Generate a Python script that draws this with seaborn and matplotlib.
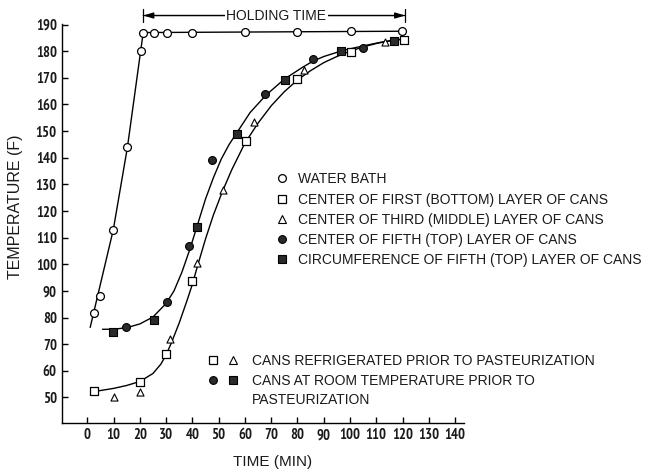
import matplotlib
matplotlib.use('Agg')
import matplotlib.pyplot as plt
from matplotlib import font_manager
from matplotlib.font_manager import FontProperties
from matplotlib.lines import Line2D
from matplotlib.legend_handler import HandlerTuple
import seaborn as sns

# values: time (min), temperature (F)
water_t = [2.6, 5.0, 9.9, 15.3, 20.3, 21.3, 25.5, 30.2, 40.0, 60.2, 80.0, 100.2, 119.7]
water_T = [81.8, 88.0, 113.0, 144.1, 180.0, 187.0, 187.0, 187.0, 187.0, 187.2, 187.3, 187.4, 187.5]
water_line_t = [1.1, 9.9, 15.3, 20.3, 21.3, 119.7]
water_line_T = [76.3, 113.0, 144.1, 180.0, 187.0, 187.5]

# center of first (bottom) layer - open squares
bottom_t = [2.7, 19.9, 30.0, 39.9, 60.5, 79.8, 100.5, 120.5]
bottom_T = [52.3, 55.8, 66.5, 93.6, 146.1, 169.4, 179.8, 184.1]
# center of third (middle) layer - open triangles
middle_t = [10.1, 19.9, 31.6, 41.7, 51.5, 63.3, 82.4, 113.3]
middle_T = [50.3, 52.1, 72.1, 100.3, 128.0, 153.4, 173.0, 183.4]
# center of fifth (top) layer - filled circles
top_t = [14.8, 30.2, 38.7, 47.4, 67.7, 86.0, 105.0]
top_T = [76.4, 85.9, 107.0, 139.0, 164.0, 177.1, 181.3]
# circumference of fifth (top) layer - filled squares
circ_t = [9.7, 25.5, 41.7, 56.9, 75.1, 96.5, 116.7]
circ_T = [74.6, 79.0, 114.0, 149.0, 169.2, 180.0, 184.0]

# hand drawn curves
cold_curve_t = [2.3, 5, 10, 15, 20, 25, 28, 30, 32, 35, 38, 40, 42, 45, 48, 51.5, 55, 60,
                65, 70, 75, 80, 85, 90, 95, 100, 105, 110, 115, 120.5]
cold_curve_T = [52.2, 52.6, 53.4, 54.5, 56.0, 59.0, 62.5, 66.0, 70.5, 78.0, 86.5, 92.5, 99.5,
                109.5, 118.5, 127.5, 135.5, 145.5, 153.0, 159.5, 164.8, 169.2, 172.7, 175.7,
                178.0, 180.0, 181.6, 182.9, 183.9, 184.6]
warm_curve_t = [5.8, 10, 15, 20, 25, 30, 33, 36, 39, 42, 45, 48, 51, 54, 57, 62, 68, 75,
                82, 86, 90, 97, 105, 112, 120.5]
warm_curve_T = [75.6, 75.6, 76.2, 77.6, 80.2, 85.3, 90.0, 97.0, 105.5, 115.0, 124.5, 132.5,
                139.5, 145.0, 149.5, 157.0, 163.5, 169.5, 174.0, 176.3, 178.0, 180.2, 182.0,
                183.4, 184.6]

hold_start = 21.3
hold_end = 121.0
hold_level = 193.4
hold_label_t = 72.0

x_ticks = list(range(0, 141, 10))
y_ticks = list(range(50, 191, 10))

legend_labels = ['WATER BATH',
                 'CENTER OF FIRST (BOTTOM) LAYER OF CANS',
                 'CENTER OF THIRD (MIDDLE) LAYER OF CANS',
                 'CENTER OF FIFTH (TOP) LAYER OF CANS',
                 'CIRCUMFERENCE OF FIFTH (TOP) LAYER OF CANS']
group_labels = ['CANS REFRIGERATED PRIOR TO PASTEURIZATION',
                'CANS AT ROOM TEMPERATURE PRIOR TO',
                'PASTEURIZATION']


# tick numbers in the scan are a narrow bold face; pick whatever narrow font exists
def narrow_font(size):
    cands = []
    for f in font_manager.fontManager.ttflist:
        name = f.name + ' ' + str(f.stretch)
        if 'Narrow' in name or 'ondensed' in name:
            if 'Italic' in f.fname or 'Oblique' in f.fname:
                continue
            cands.append(f)
    if not cands:
        return FontProperties(family='DejaVu Sans', weight='bold', size=size * 0.78)
    cands.sort(key=lambda f: ('Bold' not in f.fname, 'Narrow' not in f.name, f.fname))
    return FontProperties(fname=cands[0].fname, size=size)


sns.set_style('white')
plt.rcParams['font.family'] = ['Liberation Sans', 'DejaVu Sans']
plt.rcParams['text.color'] = '#1a1a1a'

ink = 'black'
fill = '#2a2a2a'

fig = plt.figure(figsize=(6.64, 4.72), dpi=100)
ax = fig.add_axes([0.0929, 0.1032, 0.6059, 0.847])

# curves
line_kw = dict(color=ink, lw=1.0, sort=False, estimator=None, ax=ax)
sns.lineplot(x=water_line_t, y=water_line_T, **line_kw)
sns.lineplot(x=cold_curve_t, y=cold_curve_T, **line_kw)
sns.lineplot(x=warm_curve_t, y=warm_curve_T, **line_kw)

# data points
sns.scatterplot(x=water_t, y=water_T, marker='o', s=32, color='white', edgecolor=ink,
                linewidth=0.9, zorder=3, ax=ax)
sns.scatterplot(x=bottom_t, y=bottom_T, marker='s', s=30, color='white', edgecolor=ink,
                linewidth=0.9, zorder=3, ax=ax)
sns.scatterplot(x=middle_t, y=middle_T, marker='^', s=26, color='white', edgecolor=ink,
                linewidth=0.8, zorder=3, ax=ax)
sns.scatterplot(x=top_t, y=top_T, marker='o', s=32, color=fill, edgecolor=ink,
                linewidth=0.8, zorder=3, ax=ax)
sns.scatterplot(x=circ_t, y=circ_T, marker='s', s=28, color=fill, edgecolor=ink,
                linewidth=0.8, zorder=3, ax=ax)

# holding time bracket
ax.annotate('', xy=(hold_start, hold_level), xytext=(hold_end, hold_level),
            arrowprops=dict(arrowstyle='<|-|>,head_length=0.6,head_width=0.18', color=ink,
                            lw=0.9, shrinkA=0, shrinkB=0), annotation_clip=False, zorder=4)
ax.annotate('', xy=(hold_start, hold_level), xytext=(hold_end, hold_level),
            arrowprops=dict(arrowstyle='|-|,widthA=0.48,widthB=0.48', color=ink,
                            lw=0.9, shrinkA=0, shrinkB=0), annotation_clip=False, zorder=4)
ax.text(hold_label_t, hold_level, 'HOLDING TIME', ha='center', va='center', fontsize=10,
        bbox=dict(boxstyle='square,pad=0.08', fc='white', ec='none'), zorder=6)

# axes
tick_fp = narrow_font(10.5)
ax.set_xlim(-9.75, 143.4)
ax.set_ylim(40.3, 190.4)
ax.set_xticks(x_ticks, labels=[str(v) for v in x_ticks], fontproperties=tick_fp)
ax.set_yticks(y_ticks, labels=[str(v) for v in y_ticks], fontproperties=tick_fp)
ax.spines[['top', 'right']].set_visible(False)
for s in ['left', 'bottom']:
    ax.spines[s].set_color(ink)
    ax.spines[s].set_linewidth(1.0)
ax.tick_params(direction='in', length=4, width=1, color=ink, pad=3.5,
               bottom=True, left=True, labelcolor='#1a1a1a')

fig.text(273 / 664, 1 - 461.7 / 472, 'TIME (MIN)', ha='center', va='center', fontsize=11)
fig.text(15.5 / 664, 1 - 207 / 472, 'TEMPERATURE (F)', ha='center', va='center',
         rotation=90, fontsize=11.5)

# legends
mk = dict(ls='none', mec=ink, ms=5.6)
h_water = Line2D([], [], marker='o', mfc='white', mew=0.9, **mk)
h_bottom = Line2D([], [], marker='s', mfc='white', mew=0.9, **mk)
h_middle = Line2D([], [], marker='^', mfc='white', mew=0.8, **mk)
h_top = Line2D([], [], marker='o', mfc=fill, mew=0.8, **mk)
h_circ = Line2D([], [], marker='s', mfc=fill, mew=0.8, **mk)
h_blank = Line2D([], [], ls='none')

fig.legend([h_water, h_bottom, h_middle, h_top, h_circ], legend_labels,
           loc='upper left', bbox_to_anchor=(278.1 / 664, 1 - 172.3 / 472),
           bbox_transform=fig.transFigure, frameon=False, fontsize=10,
           handlelength=0.6, handletextpad=0.8, labelspacing=0.45,
           borderpad=0, borderaxespad=0)
fig.legend([(h_bottom, h_middle), (h_top, h_circ), h_blank], group_labels,
           handler_map={tuple: HandlerTuple(ndivide=None, pad=1.0)},
           loc='upper left', bbox_to_anchor=(210.3 / 664, 1 - 354 / 472),
           bbox_transform=fig.transFigure, frameon=False, fontsize=10,
           handlelength=1.87, handletextpad=1.1, labelspacing=0.40,
           borderpad=0, borderaxespad=0)

fig.savefig('out.png', dpi=100)
